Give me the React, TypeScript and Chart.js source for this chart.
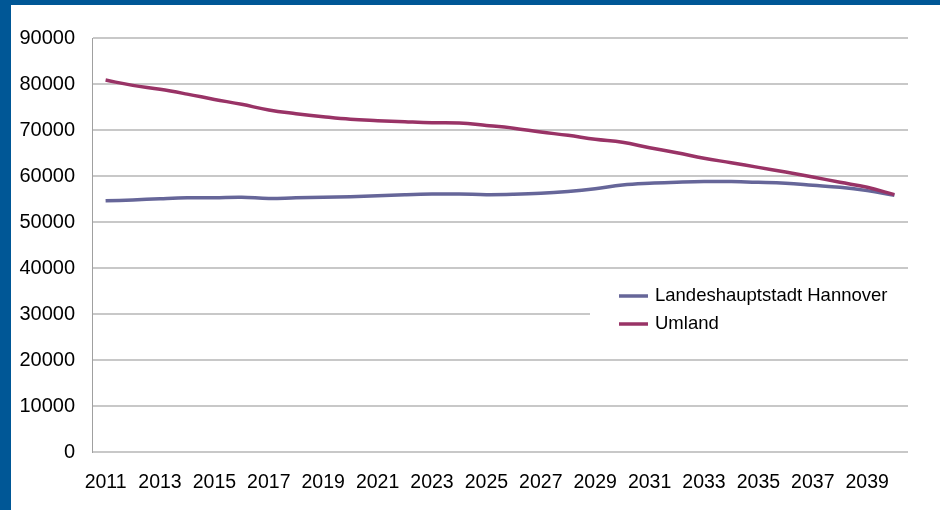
import React, { useEffect, useRef } from "react";
import { Chart, registerables } from "chart.js";

Chart.register(...registerables);

const years: string[] = [
  "2011", "2012", "2013", "2014", "2015", "2016", "2017", "2018", "2019", "2020",
  "2021", "2022", "2023", "2024", "2025", "2026", "2027", "2028", "2029", "2030",
  "2031", "2032", "2033", "2034", "2035", "2036", "2037", "2038", "2039", "2040",
];

const hannover: number[] = [
  54600, 54800, 55050, 55250, 55280, 55400, 55100, 55280, 55380, 55500,
  55700, 55930, 56080, 56100, 55950, 56020, 56230, 56650, 57250, 58040,
  58420, 58630, 58780, 58780, 58620, 58400, 57980, 57540, 56820, 55800,
];

const umland: number[] = [
  80850, 79700, 78850, 77800, 76650, 75580, 74350, 73550, 72880, 72320,
  72030, 71800, 71600, 71520, 71000, 70400, 69560, 68840, 67970, 67320,
  66160, 65070, 63850, 62900, 61880, 60870, 59780, 58630, 57540, 55950,
];

const seriesNames: string[] = ["Landeshauptstadt Hannover", "Umland"];
const seriesColors: string[] = ["#666699", "#993366"];

const yMin = 0;
const yMax = 90000;
const yStep = 10000;

const FONT = "'Liberation Sans', Arial, Helvetica, sans-serif";

const framePlugin = {
  id: "frame",
  beforeDraw(chart: any) {
    const ctx = chart.ctx;
    ctx.save();
    ctx.fillStyle = "#ffffff";
    ctx.fillRect(0, 0, chart.width, chart.height);
    ctx.fillStyle = "#005796";
    ctx.fillRect(0, 0, chart.width, 5);
    ctx.fillRect(0, 0, 11, chart.height);
    ctx.restore();
  },
};

const legendPlugin = {
  id: "customLegend",
  afterDraw(chart: any) {
    const ctx = chart.ctx;
    ctx.save();
    ctx.fillStyle = "#ffffff";
    ctx.fillRect(590, 277, chart.chartArea.right - 590, 68);
    const rows = [296, 324];
    seriesNames.forEach((name, i) => {
      const y = rows[i];
      ctx.strokeStyle = seriesColors[i];
      ctx.lineWidth = 3.5;
      ctx.beginPath();
      ctx.moveTo(619, y);
      ctx.lineTo(648, y);
      ctx.stroke();
      ctx.fillStyle = "#000000";
      ctx.font = `18.5px ${FONT}`;
      ctx.textBaseline = "middle";
      ctx.textAlign = "left";
      ctx.fillText(name, 655, y);
    });
    ctx.restore();
  },
};

export default function App() {
  const canvasRef = useRef<HTMLCanvasElement | null>(null);

  useEffect(() => {
    if (!canvasRef.current) return;
    const chart = new Chart(canvasRef.current, {
      type: "line",
      data: {
        labels: years,
        datasets: [
          {
            label: seriesNames[0],
            data: hannover,
            borderColor: seriesColors[0],
            backgroundColor: seriesColors[0],
            borderWidth: 3.5,
            pointRadius: 0,
            tension: 0.4,
            order: 1,
          },
          {
            label: seriesNames[1],
            data: umland,
            borderColor: seriesColors[1],
            backgroundColor: seriesColors[1],
            borderWidth: 3.5,
            pointRadius: 0,
            tension: 0.4,
            order: 0,
          },
        ],
      },
      options: {
        animation: false,
        responsive: false,
        maintainAspectRatio: false,
        devicePixelRatio: 1,
        layout: { padding: { left: 0, right: 32, top: 38, bottom: 0 } },
        plugins: {
          legend: { display: false },
          tooltip: { enabled: false },
        },
        scales: {
          x: {
            type: "category",
            offset: true,
            grid: { display: false, drawTicks: false },
            border: { display: false },
            ticks: {
              autoSkip: false,
              maxRotation: 0,
              minRotation: 0,
              padding: 19,
              color: "#000000",
              font: { family: FONT, size: 19.5 },
              callback: (_v: any, i: number) => (i % 2 === 0 ? years[i] : ""),
            },
            afterFit: (scale: any) => {
              scale.height = 58;
            },
          },
          y: {
            min: yMin,
            max: yMax,
            grid: { color: "#c8c8c8", lineWidth: 2, drawTicks: false },
            border: { display: true, color: "#a0a0a0", width: 1 },
            ticks: {
              stepSize: yStep,
              padding: 17,
              color: "#000000",
              font: { family: FONT, size: 20 },
              callback: (v: any) => String(v),
            },
            afterFit: (scale: any) => {
              scale.width = 92;
            },
          },
        },
      },
      plugins: [framePlugin, legendPlugin],
    });
    return () => chart.destroy();
  }, []);

  return (
    <div style={{ position: "fixed", left: 0, top: 0, width: 940, height: 510 }}>
      <canvas ref={canvasRef} width={940} height={510} style={{ width: 940, height: 510 }} />
    </div>
  );
}
